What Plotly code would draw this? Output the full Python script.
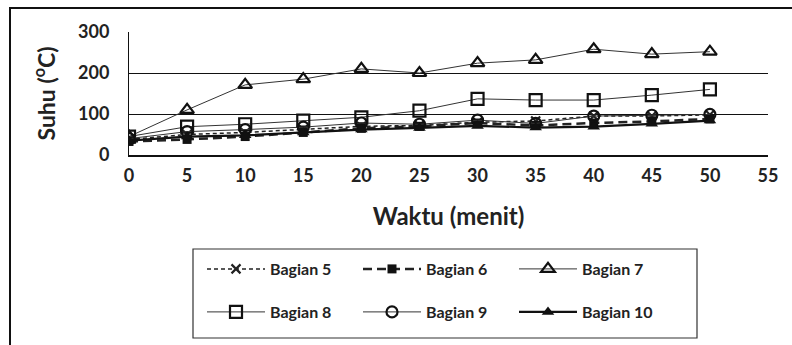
import plotly.graph_objects as go

waktu = [0, 5, 10, 15, 20, 25, 30, 35, 40, 45, 50]
bagian5 = [38, 50, 55, 62, 70, 72, 80, 83, 95, 95, 98]
bagian6 = [33, 38, 45, 55, 65, 70, 78, 72, 78, 82, 88]
bagian7 = [45, 110, 171, 185, 210, 200, 224, 232, 258, 246, 252]
bagian8 = [45, 69, 75, 84, 92, 108, 137, 134, 134, 146, 160]
bagian9 = [40, 57, 62, 68, 78, 75, 85, 77, 95, 97, 99]
bagian10 = [35, 45, 48, 55, 62, 66, 71, 67, 69, 76, 84]

x_ticks = [0, 5, 10, 15, 20, 25, 30, 35, 40, 45, 50, 55]
y_ticks = [0, 100, 200, 300]

FONT = "Lato"
W, H = 792, 345
L, R, T, B = 129, 24, 32, 190
pw, ph = W - L - R, H - T - B

def px(xp):
    return (xp - L) / pw

def py(yp):
    return (H - B - yp) / ph

fig = go.Figure()

specs = [
    ("Bagian 5", bagian5, dict(color="#222", width=1.5, dash="4px,3px"),
     dict(symbol="x-thin-open", size=9, line=dict(width=2.2, color="#111")), "legend"),
    ("Bagian 6", bagian6, dict(color="#222", width=2.5, dash="9px,5px"),
     dict(symbol="square", size=9, color="#111"), "legend"),
    ("Bagian 7", bagian7, dict(color="#333", width=1),
     dict(symbol="triangle-up-open", size=12, color="#111", line=dict(width=2.2, color="#111")), "legend"),
    ("Bagian 8", bagian8, dict(color="#333", width=1),
     dict(symbol="square-open", size=12, color="#111", line=dict(width=2.2, color="#111")), "legend2"),
    ("Bagian 9", bagian9, dict(color="#333", width=1),
     dict(symbol="circle-open", size=11, color="#111", line=dict(width=2.2, color="#111")), "legend2"),
    ("Bagian 10", bagian10, dict(color="#111", width=2.2),
     dict(symbol="triangle-up", size=11, color="#111"), "legend2"),
]

for name, ys, line, marker, lg in specs:
    fig.add_trace(go.Scatter(x=waktu, y=ys, name=name, mode="lines+markers",
                             line=line, marker=marker, legend=lg))

legend_common = dict(
    orientation="h", xanchor="left", yanchor="middle",
    xref="container", yref="container",
    font=dict(family=FONT, size=16, color="#222", weight="bold"),
    entrywidth=83, entrywidthmode="pixels", itemwidth=58,
    bgcolor="rgba(0,0,0,0)", borderwidth=0,
)

fig.update_layout(
    width=W, height=H,
    margin=dict(l=L, r=R, t=T, b=B, autoexpand=False),
    plot_bgcolor="white", paper_bgcolor="white",
    font=dict(family=FONT, color="#222"),
    legend=dict(x=202 / W, y=1 - 269 / H, **legend_common),
    legend2=dict(x=202 / W, y=1 - 312 / H, **legend_common),
    xaxis=dict(
        range=[0, 55], tickvals=x_ticks, ticktext=[str(v) for v in x_ticks],
        showgrid=False, zeroline=False, showline=True, linecolor="#111", linewidth=1.5,
        ticks="", ticklabelstandoff=4, automargin=False,
        tickfont=dict(family=FONT, size=18, color="#222", weight="bold"),
        title=dict(text="Waktu (menit)", standoff=23,
                   font=dict(family=FONT, size=24, color="#222", weight="bold")),
    ),
    yaxis=dict(
        range=[0, 300], tickvals=y_ticks, ticktext=[str(v) for v in y_ticks],
        showgrid=True, gridcolor="#111", gridwidth=1,
        zeroline=False, showline=True, linecolor="#111", linewidth=1,
        ticks="", ticklabelstandoff=15, automargin=False,
        tickfont=dict(family=FONT, size=18, color="#222", weight="bold"),
        title=dict(text="Suhu (<sup>o</sup>C)", standoff=16,
                   font=dict(family=FONT, size=23, color="#222", weight="bold")),
    ),
    shapes=[
        dict(type="rect", xref="paper", yref="paper",
             x0=px(10), x1=px(805), y0=py(360), y1=py(8),
             line=dict(color="#111", width=2), fillcolor="rgba(0,0,0,0)", layer="below"),
        dict(type="rect", xref="paper", yref="paper",
             x0=px(193), x1=px(697), y0=py(338), y1=py(249),
             line=dict(color="#333", width=1.2), fillcolor="rgba(0,0,0,0)"),
    ],
)

fig.write_html("out.html", config={"displayModeBar": False},
               post_script="document.body.style.margin='0';")
